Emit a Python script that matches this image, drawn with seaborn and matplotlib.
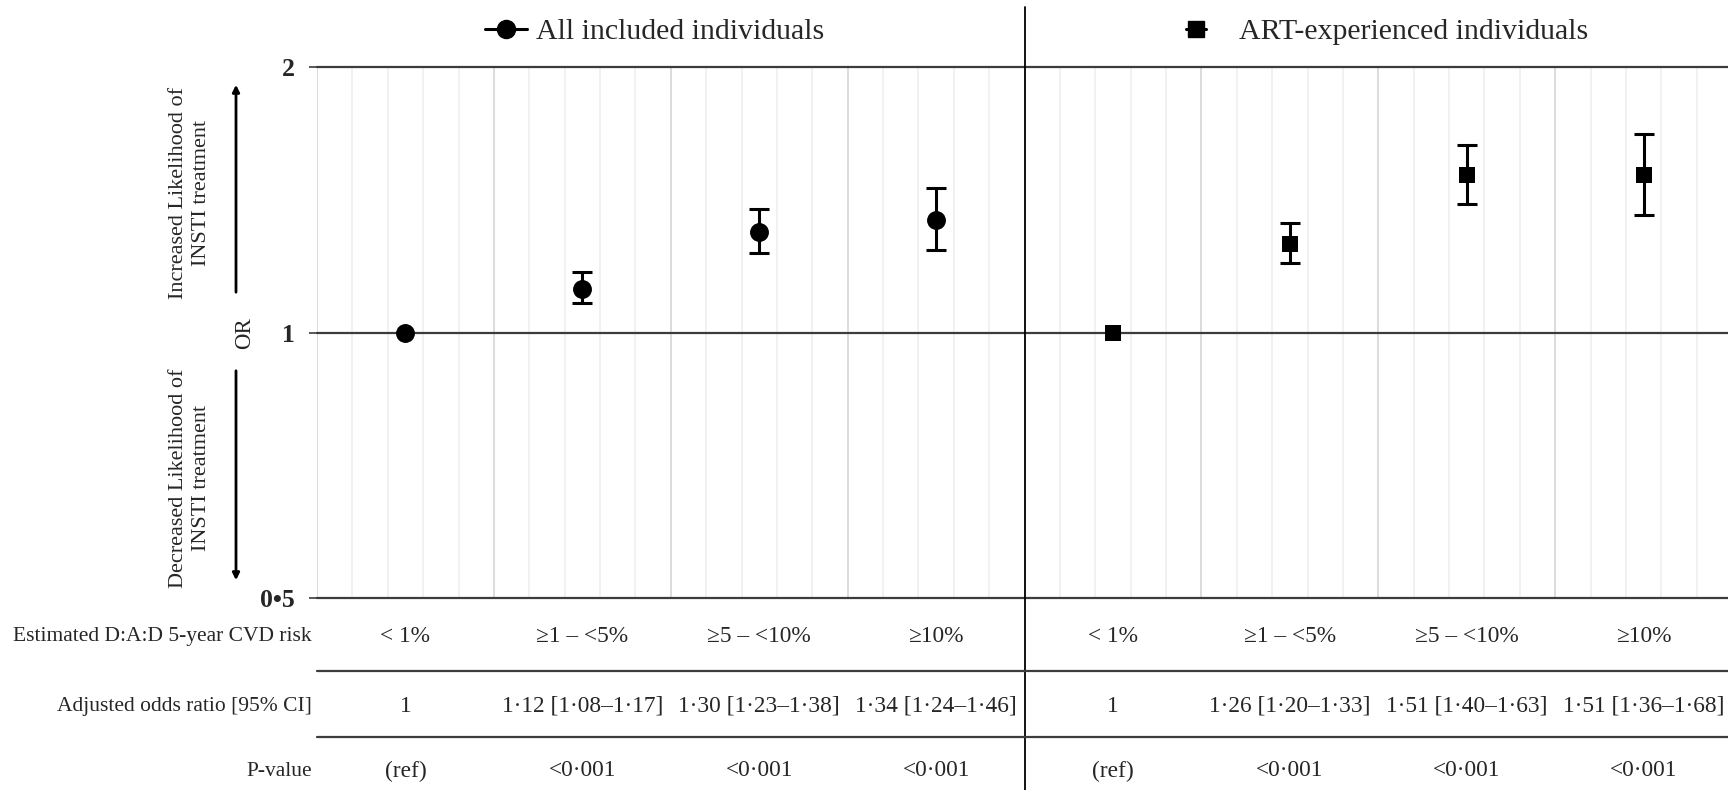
import numpy as np
import pandas as pd
import seaborn as sns
import matplotlib.pyplot as plt
import matplotlib.transforms as mtransforms
from matplotlib.lines import Line2D
from matplotlib.ticker import NullLocator

risk_groups = ['< 1%', '\u22651 \u2013 <5%', '\u22655 \u2013 <10%', '\u226510%']
cohorts = ['All included individuals', 'ART-experienced individuals']

all_or = [1.00, 1.12, 1.30, 1.34]
all_lo = [1.00, 1.08, 1.23, 1.24]
all_hi = [1.00, 1.17, 1.38, 1.46]

art_or = [1.00, 1.26, 1.51, 1.51]
art_lo = [1.00, 1.20, 1.40, 1.36]
art_hi = [1.00, 1.33, 1.63, 1.68]

all_or_text = ['1', '1\u00b712 [1\u00b708\u20131\u00b717]', '1\u00b730 [1\u00b723\u20131\u00b738]', '1\u00b734 [1\u00b724\u20131\u00b746]']
art_or_text = ['1', '1\u00b726 [1\u00b720\u20131\u00b733]', '1\u00b751 [1\u00b740\u20131\u00b763]', '1\u00b751 [1\u00b736\u20131\u00b768]']
all_p = ['(ref)', '<0\u00b7001', '<0\u00b7001', '<0\u00b7001']
art_p = ['(ref)', '<0\u00b7001', '<0\u00b7001', '<0\u00b7001']

row_labels = ['Estimated D:A:D 5-year CVD risk', 'Adjusted odds ratio [95% CI]', 'P-value']

df = pd.DataFrame({
    'cohort': [cohorts[0]] * 4 + [cohorts[1]] * 4,
    'risk': risk_groups * 2,
    'OR': all_or + art_or,
    'lo': all_lo + art_lo,
    'hi': all_hi + art_hi,
    'or_text': all_or_text + art_or_text,
    'p': all_p + art_p,
})
df['pos'] = np.arange(len(df))

sns.set_theme(style='white')
plt.rcParams['font.family'] = ['Liberation Serif', 'DejaVu Serif']

W, H = 1728, 790


def fy(py):
    # pixel row (from top) -> figure fraction
    return (H - py) / H


fig = plt.figure(figsize=(W / 100, H / 100), dpi=100)
ax = fig.add_axes([317 / W, fy(598), 1415 / W, (598 - 67) / H])
trans = mtransforms.blended_transform_factory(ax.transData, fig.transFigure)

# vertical gridlines (major at category edges, 4 minor in between)
for k in range(41):
    xv = -0.5 + 0.2 * k
    if k % 5 == 0:
        ax.axvline(xv, color='#d9d9d9', lw=1.3, zorder=0)
    else:
        ax.axvline(xv, color='#eeeeee', lw=1.1, zorder=0)

for yv in [0.5, 1, 2]:
    ax.axhline(yv, color='#3c3c3c', lw=1.6, zorder=2, clip_on=False)

# error bars
for _, r in df[df['hi'] > df['lo']].iterrows():
    ax.errorbar(r['pos'], r['OR'], yerr=[[r['OR'] - r['lo']], [r['hi'] - r['OR']]],
                fmt='none', ecolor='black', elinewidth=2.2, capsize=7.5, capthick=2.2, zorder=3)

sns.scatterplot(data=df[df['cohort'] == cohorts[0]], x='pos', y='OR', marker='o', s=185,
                color='black', edgecolor='black', linewidth=0, ax=ax, zorder=4, legend=False)
sns.scatterplot(data=df[df['cohort'] == cohorts[1]], x='pos', y='OR', marker='s', s=130,
                color='black', edgecolor='black', linewidth=0, ax=ax, zorder=4, legend=False)

ax.set_yscale('log', base=2)
ax.set_ylim(0.5, 2)
ax.set_xlim(-0.5, 7.5)
ax.set_yticks([0.5, 1, 2])
ax.set_yticklabels(['0\u20225', '1', '2'], fontweight='bold', fontsize=18.5)
ax.yaxis.set_minor_locator(NullLocator())
ax.set_xticks([])
ax.tick_params(axis='y', length=6, width=1.2, color='#3c3c3c', pad=10, left=True)
ax.set_xlabel('')
ax.set_ylabel('')
for s in ax.spines.values():
    s.set_visible(False)

# panel divider
ax.plot([3.5, 3.5], [0, fy(7)], transform=trans, color='black', lw=1.3, clip_on=False)

# table under the plot
row_y = [637, 706, 771]
for py in [671, 737]:
    ax.plot([-0.5, 7.5], [fy(py), fy(py)], transform=trans, color='#3c3c3c', lw=1.6, clip_on=False)
for lab, py in zip(row_labels, row_y):
    fig.text(312 / W, fy(py), lab, ha='right', va='center', fontsize=15.5)
for _, r in df.iterrows():
    for txt, py in zip([r['risk'], r['or_text'], r['p']], row_y):
        ax.text(r['pos'], fy(py), txt, transform=trans, ha='center', va='center', fontsize=16.8)

# y-axis side labels and arrows
fig.text(190 / W, fy(193), 'Increased Likelihood of\nINSTI treatment', rotation=90,
         ha='center', va='center', multialignment='center', fontsize=16, linespacing=1.35)
fig.text(190 / W, fy(478), 'Decreased Likelihood of\nINSTI treatment', rotation=90,
         ha='center', va='center', multialignment='center', fontsize=16, linespacing=1.35)
fig.text(245 / W, fy(333), 'OR', rotation=90, ha='center', va='center', fontsize=16.5)
ax.annotate('', xy=(236, H - 82), xytext=(236, H - 295), xycoords='figure pixels',
            arrowprops=dict(arrowstyle='-|>', color='black', lw=2, mutation_scale=10))
ax.annotate('', xy=(236, H - 583), xytext=(236, H - 368), xycoords='figure pixels',
            arrowprops=dict(arrowstyle='-|>', color='black', lw=2, mutation_scale=10))

# legends over each panel
h1 = Line2D([0], [0], color='black', marker='o', markersize=13, lw=2.2)
h2 = Line2D([0], [0], color='black', marker='s', markersize=11, lw=2.2)
fig.legend(handles=[h1], labels=[cohorts[0]], loc='center', bbox_to_anchor=(655 / W, fy(32)),
           frameon=False, fontsize=21.5, handlelength=1.4, handletextpad=0.3)
fig.legend(handles=[h2], labels=[cohorts[1]], loc='center', bbox_to_anchor=(1387 / W, fy(32)),
           frameon=False, fontsize=21.5, handlelength=0.7, handletextpad=1.1)

fig.savefig('out.png', dpi=100)
